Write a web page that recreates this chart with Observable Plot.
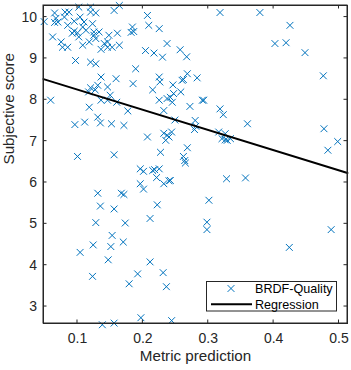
<!DOCTYPE html>
<html><head><meta charset="utf-8">
<script src="https://cdn.jsdelivr.net/npm/d3@7"></script>
<script src="https://cdn.jsdelivr.net/npm/@observablehq/plot@0.6"></script>
<style>body{margin:0;background:#fff}#chart svg{display:block}</style>
</head><body><div id="chart"></div>
<script>
const metricPrediction = [0.049,0.065,0.067,0.070,0.065,0.081,0.087,0.080,0.102,0.120,0.120,0.128,0.104,0.095,0.110,0.123,0.085,0.108,0.095,0.100,0.092,0.113,0.125,0.133,0.125,0.102,0.062,0.075,0.077,0.085,0.108,0.118,0.128,0.136,0.141,0.146,0.148,0.161,0.146,0.153,0.164,0.156,0.164,0.184,0.182,0.186,0.097,0.120,0.128,0.207,0.209,0.225,0.204,0.217,0.230,0.237,0.257,0.267,0.189,0.268,0.260,0.262,0.283,0.136,0.159,0.225,0.226,0.185,0.246,0.146,0.120,0.131,0.117,0.127,0.215,0.258,0.247,0.136,0.146,0.150,0.160,0.118,0.059,0.225,0.237,0.242,0.245,0.291,0.293,0.272,0.318,0.177,0.232,0.323,0.249,0.280,0.281,0.279,0.316,0.321,0.326,0.329,0.334,0.326,0.360,0.096,0.111,0.135,0.131,0.152,0.171,0.207,0.232,0.237,0.244,0.240,0.235,0.268,0.227,0.156,0.100,0.262,0.264,0.265,0.483,0.498,0.477,0.196,0.201,0.215,0.218,0.225,0.221,0.232,0.240,0.196,0.201,0.242,0.328,0.357,0.131,0.167,0.171,0.222,0.301,0.135,0.156,0.211,0.298,0.298,0.128,0.173,0.488,0.153,0.170,0.124,0.151,0.104,0.424,0.147,0.211,0.123,0.192,0.231,0.179,0.236,0.138,0.156,0.197,0.244,0.476,0.425,0.402,0.419,0.448,0.318,0.379];
const subjectiveScore = [9.89,10.10,9.97,9.88,9.87,10.12,10.12,10.00,10.24,10.24,10.12,10.10,10.00,9.90,9.88,9.84,9.80,9.76,9.66,9.62,9.61,9.68,9.64,9.64,9.56,9.52,9.52,9.40,9.27,9.27,9.32,9.40,9.48,9.22,9.36,9.40,9.56,9.61,9.27,9.27,9.32,10.16,10.28,9.76,9.63,9.65,8.95,8.91,8.87,10.04,9.80,9.72,9.19,9.13,9.03,9.36,9.21,9.04,8.75,8.63,8.47,8.49,8.53,8.55,8.51,8.55,8.43,8.39,8.36,8.31,8.29,8.35,8.19,8.24,8.24,8.19,8.15,7.99,7.99,8.11,7.94,7.82,7.99,7.99,8.03,8.06,7.94,7.99,7.99,7.84,7.78,7.73,7.74,7.64,7.51,7.50,7.36,7.28,7.22,7.06,7.18,7.02,7.06,7.03,7.42,7.40,7.46,7.44,7.58,7.42,7.38,7.10,7.19,7.14,7.22,7.10,7.02,6.84,6.73,6.67,6.63,6.63,6.53,6.47,6.78,6.99,7.30,6.33,6.27,6.29,6.31,6.33,6.12,5.97,6.04,5.97,5.84,6.05,6.09,6.11,5.74,5.74,5.71,5.46,5.57,5.43,5.36,5.13,5.04,4.86,5.03,5.02,4.86,4.72,4.56,4.49,4.45,4.31,4.43,4.13,4.08,3.73,3.79,3.82,3.55,3.48,2.56,2.60,2.73,2.66,8.58,9.80,9.36,9.38,9.14,10.11,10.11];
const regressionX = [0.048, 0.513];
const regressionY = [8.50, 6.23];
const xTicks = [0.1, 0.2, 0.3, 0.4, 0.5];
const yTicks = [3, 4, 5, 6, 7, 8, 9, 10];
const seriesNames = ["BRDF-Quality", "Regression"];
const xLabel = "Metric prediction";
const yLabel = "Subjective score";

(function () {
const points = metricPrediction.map((x, i) => ({x, y: subjectiveScore[i]}));
const reg = regressionX.map((x, i) => ({x, y: regressionY[i]}));
const axisColor = "#262626";
const blue = "#0072BD";
const font = "'Liberation Sans', Arial, Helvetica, sans-serif";

const chart = Plot.plot({
  width: 351, height: 370,
  marginLeft: 43, marginRight: 4, marginTop: 5, marginBottom: 47,
  style: {fontFamily: font, fontSize: "14px", color: axisColor, background: "#fff", overflow: "visible"},
  x: {domain: [0.048, 0.513]},
  y: {domain: [2.59, 10.28]},
  marks: [
    Plot.dot(points, {x: "x", y: "y", symbol: "times", r: 3.2, stroke: blue, strokeWidth: 1}),
    Plot.line(reg, {x: "x", y: "y", stroke: "#000", strokeWidth: 2}),
    Plot.frame({stroke: axisColor, strokeWidth: 1}),
    Plot.axisX({ticks: xTicks, tickSize: 0, tickPadding: 9.5, tickFormat: d => d.toFixed(1), label: null}),
    Plot.axisY({ticks: yTicks, tickSize: 0, tickPadding: 6.5, label: null}),
    Plot.text([xLabel], {frameAnchor: "bottom", dy: 37, fontSize: 15.2, fill: axisColor}),
    Plot.text([yLabel], {frameAnchor: "left", rotate: -90, dx: -34, fontSize: 15.2, fill: axisColor})
  ]
});
document.getElementById("chart").appendChild(chart);

const sx = chart.scale("x"), sy = chart.scale("y");
const fx = v => sx.apply ? sx.apply(v) : d3.scaleLinear(sx.domain, sx.range)(v);
const fy = v => sy.apply ? sy.apply(v) : d3.scaleLinear(sy.domain, sy.range)(v);
const xL = fx(sx.domain[0]), xR = fx(sx.domain[1]);
const yB = fy(sy.domain[0]), yT = fy(sy.domain[1]);
const svg = d3.select(chart);

// axes box
svg.append("rect").attr("x", xL).attr("y", yT).attr("width", xR - xL).attr("height", yB - yT)
  .attr("fill", "none").attr("stroke", axisColor).attr("stroke-width", 1);

// inward ticks on all four sides
const tg = svg.append("g").attr("stroke", axisColor).attr("stroke-width", 1);
const tl = 3.5;
for (const t of xTicks) {
  const p = fx(t);
  tg.append("line").attr("x1", p).attr("x2", p).attr("y1", yB).attr("y2", yB - tl);
  tg.append("line").attr("x1", p).attr("x2", p).attr("y1", yT).attr("y2", yT + tl);
}
for (const t of yTicks) {
  const p = fy(t);
  tg.append("line").attr("y1", p).attr("y2", p).attr("x1", xL).attr("x2", xL + tl);
  tg.append("line").attr("y1", p).attr("y2", p).attr("x1", xR).attr("x2", xR - tl);
}

// legend
const lg = svg.append("g").attr("font-family", font).attr("font-size", 12.6)
  .attr("fill", "#000").attr("text-anchor", "start").style("text-anchor", "start");
lg.append("rect").attr("x", 206.5).attr("y", 281.5).attr("width", 130).attr("height", 29.5)
  .attr("fill", "#fff").attr("stroke", axisColor).attr("stroke-width", 1);
lg.append("path").attr("d", d3.symbol(d3.symbolTimes, 3.2 * 3.2 * Math.PI)())
  .attr("transform", "translate(231,288.5)").attr("fill", "none").attr("stroke", blue).attr("stroke-width", 1);
lg.append("line").attr("x1", 211).attr("x2", 252).attr("y1", 304.3).attr("y2", 304.3)
  .attr("stroke", "#000").attr("stroke-width", 2);
lg.append("text").attr("x", 255).attr("y", 293).text(seriesNames[0]);
lg.append("text").attr("x", 255).attr("y", 308.8).text(seriesNames[1]);
})();
</script>
</body></html>
